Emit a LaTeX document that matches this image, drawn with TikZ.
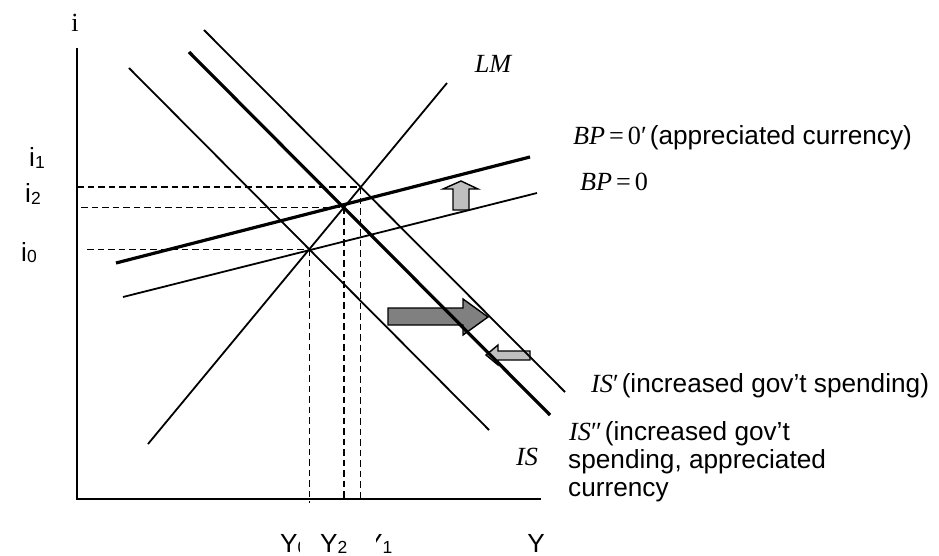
\documentclass[tikz,border=0pt]{standalone}
\usepackage{fontspec}
\setmainfont{Liberation Sans}
\newfontfamily\ser{Liberation Serif}
\newcommand\sbs[1]{\raisebox{-0.06em}{\fontsize{17.5}{17.5}\selectfont #1}}
\begin{document}
\begin{tikzpicture}[x=1pt,y=-1pt,
  thinln/.style={line width=1.8pt},
  thickln/.style={line width=3.2pt},
  axisln/.style={line width=2.6pt},
  guide/.style={line width=1.5pt, dash pattern=on 6.5pt off 4pt},
  lbl/.style={inner sep=0pt, font=\fontsize{26.2}{29}\selectfont},
  darkarrow/.style={fill=black!50, draw=black, line width=1.4pt, line join=miter},
  lightarrow/.style={fill=black!25, draw=black, line width=1.4pt, line join=miter}]
\useasboundingbox (0,0) rectangle (939,556);

% shift arrows (drawn first, the curves pass over them)
\draw[darkarrow] (388,308) -- (463,308) -- (463,299) -- (488,317) -- (463,335) -- (463,325) -- (388,325) -- cycle;
\draw[lightarrow] (486,355) -- (498,345) -- (498,351) -- (530,351) -- (530,360) -- (498,360) -- (498,365) -- cycle;
\draw[lightarrow] (461,181) -- (478,189) -- (469,189) -- (469,210) -- (453,210) -- (453,189) -- (443,189) -- cycle;

% axes
\coordinate (O) at (77,499);
\coordinate (ytop) at (77,48);
\coordinate (xend) at (541,499);
\draw[axisln] (ytop) -- (O) -- (xend);

% curves
\coordinate (LMa) at (148,444);  \coordinate (LMb) at (447,83);
\coordinate (ISa) at (129,68);   \coordinate (ISb) at (489,430);
\coordinate (IS2a) at (189,52);  \coordinate (IS2b) at (550,415);
\coordinate (IS1a) at (204,30);  \coordinate (IS1b) at (565,392);
\coordinate (BPa) at (123,297);  \coordinate (BPb) at (537,193);
\coordinate (BP1a) at (116,263); \coordinate (BP1b) at (530,157);

\draw[thinln] (LMa) -- (LMb);
\draw[thinln] (ISa) -- (ISb);
\draw[thickln] (IS2a) -- (IS2b);
\draw[thinln] (IS1a) -- (IS1b);
\draw[thinln] (BPa) -- (BPb);
\draw[thickln] (BP1a) -- (BP1b);

% equilibria
\coordinate (E0) at (intersection of ISa--ISb and LMa--LMb);
\coordinate (E2) at (intersection of IS2a--IS2b and LMa--LMb);
\coordinate (E1) at (intersection of IS1a--IS1b and LMa--LMb);

\coordinate (h1) at (77,0);
\coordinate (h2) at (81,0);
\coordinate (h0) at (87,0);
\coordinate (v0) at (0,503);
\draw[guide] (h1 |- E1) -- (E1);
\draw[guide] (h2 |- E2) -- (E2);
\draw[guide] (h0 |- E0) -- (E0);
\draw[guide] (E0) -- (E0 |- v0);
\draw[guide] (E2) -- (E2 |- O);
\draw[guide] (E1) -- (E1 |- O);

% labels
\node[lbl, anchor=base] (ilab) at (75,32) {\ser i};
\node[lbl, anchor=base west] (i1lab) at (29,167) {i\sbs{1}};
\node[lbl, anchor=base west] (i2lab) at (25,203) {i\sbs{2}};
\node[lbl, anchor=base west] (i0lab) at (21,261) {i\sbs{0}};

\node[lbl, anchor=base west] (y0lab) at (280,552) {Y\sbs{0}};
\node[lbl, anchor=base west] (y1lab) at (365,552) {Y\sbs{1}};
\node[lbl, anchor=base west, fill=white, inner ysep=4pt] (y2lab) at (300,552) {\kern20pt Y\sbs{2}\kern29pt\relax};
\node[lbl, anchor=base] (ylab) at (536,552) {Y};

\node[lbl, anchor=base] (lmlab) at (493,73) {\ser\itshape LM};
\node[lbl, anchor=base] (islab) at (527,465) {\ser\itshape IS};

\node[lbl, anchor=base west] (bp1lab) at (573,145) {{\ser\itshape BP}\hspace{4pt}{\ser =}\hspace{4pt}{\ser 0′}\hspace{3pt}(appreciated currency)};
\node[lbl, anchor=base west] (bp0lab) at (580,190) {{\ser\itshape BP}\hspace{4pt}{\ser =}\hspace{4pt}{\ser 0}};
\node[lbl, anchor=base west] (is1lab) at (591,392) {{\ser\itshape IS}{\ser ′}\hspace{3pt}(increased gov’t spending)};
\node[lbl, anchor=base west] (is2laba) at (569,440) {{\ser\itshape IS}{\ser ″}\hspace{3pt}(increased gov’t};
\node[lbl, anchor=base west] (is2labb) at (568,468) {spending, appreciated};
\node[lbl, anchor=base west] (is2labc) at (568,496) {currency};
\end{tikzpicture}
\end{document}
